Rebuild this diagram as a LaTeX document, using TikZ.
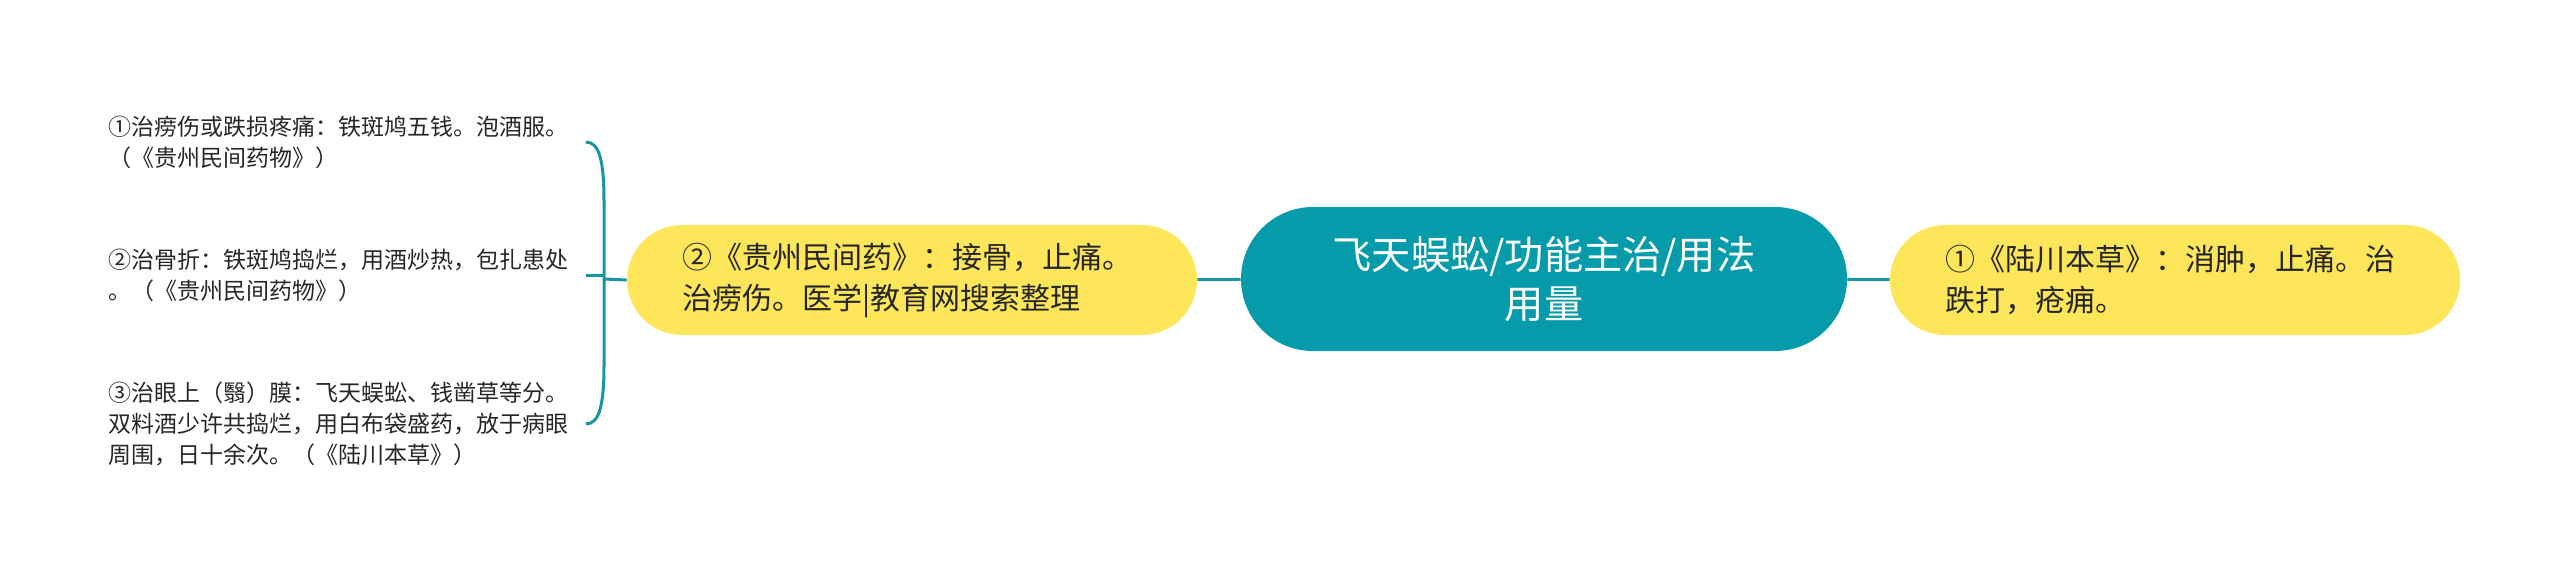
\documentclass[tikz,border=0pt]{standalone}
\usepackage{fontspec}
\setmainfont{Noto Sans CJK SC}
\usepackage{xcolor}
\usepackage{tikz}
\usetikzlibrary{calc}

\definecolor{rootteal}{RGB}{6,155,170}
\definecolor{linkteal}{RGB}{22,150,163}
\definecolor{subyellow}{RGB}{253,230,90}
\definecolor{leaftext}{RGB}{38,38,38}

\tikzset{
  rootbox/.style={fill=rootteal, text=white, rounded corners=36pt, minimum width=303pt, minimum height=72pt, align=center, inner sep=0pt, font=\fontsize{19.6}{24.5}\selectfont},
  subbox/.style={fill=subyellow, text=leaftext, rounded corners=27.5pt, minimum height=55pt, text width=230pt, inner xsep=27.5pt, inner ysep=0pt, align=left, font=\fontsize{15}{20.5}\selectfont},
  leafbox/.style={text=leaftext, text width=235pt, inner xsep=3.5pt, inner ysep=0pt, align=left, font=\fontsize{11.5}{15.5}\selectfont},
  link/.style={draw=linkteal, line width=1.5pt},
}

\begin{document}
\begin{tikzpicture}[x=0.5pt,y=0.5pt,yscale=-1,xscale=1]
%set diagram left start at 0, and has height of 574
\useasboundingbox (0,0) rectangle (2560,574);

%Shape: Rounded Rectangle
\draw (1544,279) node (root) [rootbox] {飞天蜈蚣/功能主治/用法\\用量};
%Shape: Rounded Rectangle
\draw (912,280) node (left) [subbox] {②《贵州民间药》：接骨，止痛。\\治痨伤。医学|教育网搜索整理};
%Shape: Rounded Rectangle
\draw (2175,280) node (right) [subbox] {①《陆川本草》：消肿，止痛。治\\跌打，疮痈。};

% Text Node
\draw (101,142) node (leafa) [anchor=west][leafbox] {①治痨伤或跌损疼痛：铁斑鸠五钱。泡酒服。\\（《贵州民间药物》）};
% Text Node
\draw (101,275) node (leafb) [anchor=west][leafbox] {②治骨折：铁斑鸠捣烂，用酒炒热，包扎患处\\。（《贵州民间药物》）};
% Text Node
\draw (101,424) node (leafc) [anchor=west][leafbox] {③治眼上（翳）膜：飞天蜈蚣、钱凿草等分。\\双料酒少许共捣烂，用白布袋盛药，放于病眼\\周围，日十余次。（《陆川本草》）};

%Straight Lines
\draw [link] (root) -- (left) ;
\draw [link] (root) -- (right) ;
\coordinate (fork) at (604,279) ;
\draw [link] (left.west) -- (fork) ;
%Curve Lines
\draw [link] (leafa.east) .. controls +(14,0) and +(0,-40) .. ($(fork |- leafa.east)+(0,60)$) -- (fork) ;
\draw [link] (leafc.east) .. controls +(14,0) and +(0,40) .. ($(fork |- leafc.east)+(0,-60)$) -- (fork) ;
\draw [link] (leafb.east) -- (fork |- leafb.east) ;

\end{tikzpicture}
\end{document}
